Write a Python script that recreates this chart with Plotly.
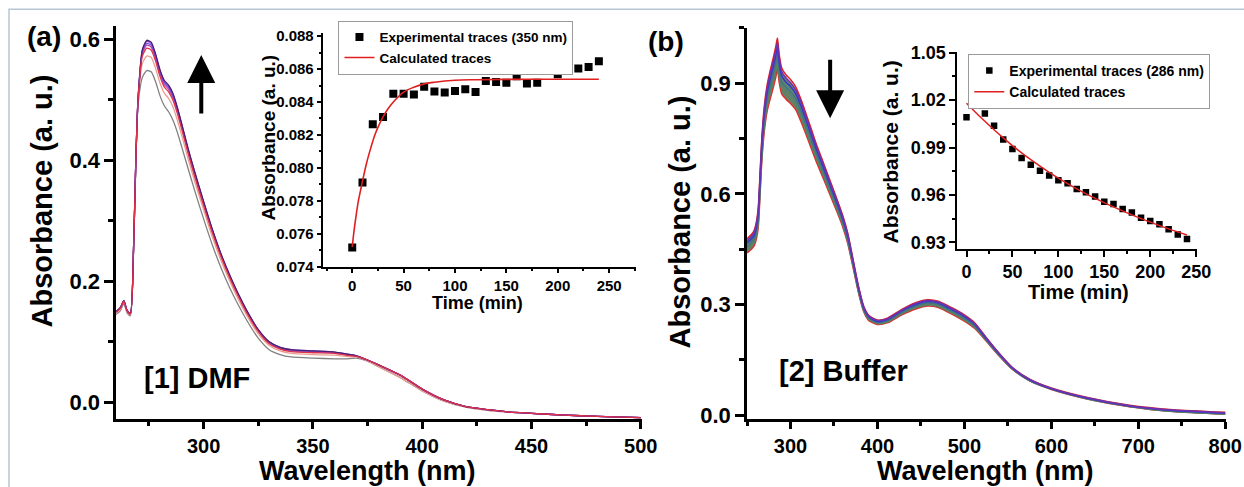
import plotly.graph_objects as go

# canvas size and the small scale/offset the page is shown at
FIG_W, FIG_H = 1265, 498
SX, SY, OX, OY = 0.986, 0.962, -1.0, 9.3
FONT = "Liberation Sans, Arial, sans-serif"


def px(x):
    return ((x - OX) / SX) / FIG_W


def py(y):
    return 1 - ((y - OY) / SY) / FIG_H


# ---------------- (a) UV-Vis spectra of [1] in DMF ----------------
wl_a_head = [260, 262, 263.5, 265, 266.5, 268, 269, 270, 272, 274, 276, 278, 280, 282, 284,
             286, 288, 290, 293, 296, 300, 304, 308, 312, 316, 320, 325, 330, 335, 340,
             350, 360, 365, 370]
abs_a_0min = [0.145, 0.152, 0.163, 0.148, 0.143, 0.255, 0.395, 0.490, 0.537, 0.548, 0.546, 0.530,
              0.507, 0.490, 0.480, 0.466, 0.446, 0.422, 0.385, 0.349, 0.303, 0.260, 0.222, 0.189,
              0.160, 0.134, 0.106, 0.087, 0.079, 0.075, 0.073, 0.072, 0.072, 0.073]
abs_a_10min = [0.147, 0.154, 0.165, 0.150, 0.145, 0.258, 0.398, 0.495, 0.560, 0.572, 0.570, 0.552,
               0.528, 0.511, 0.502, 0.488, 0.466, 0.441, 0.401, 0.364, 0.318, 0.273, 0.234, 0.200,
               0.169, 0.142, 0.113, 0.094, 0.085, 0.081, 0.079, 0.078, 0.076, 0.075]
abs_a_20min = [0.149, 0.156, 0.167, 0.151, 0.146, 0.260, 0.400, 0.498, 0.572, 0.585, 0.582, 0.564,
               0.539, 0.521, 0.513, 0.499, 0.477, 0.451, 0.410, 0.372, 0.325, 0.280, 0.240, 0.205,
               0.174, 0.146, 0.117, 0.097, 0.088, 0.084, 0.082, 0.081, 0.078, 0.076]
abs_a_30min = [0.149, 0.156, 0.167, 0.151, 0.146, 0.260, 0.400, 0.499, 0.577, 0.590, 0.587, 0.569,
               0.543, 0.525, 0.517, 0.503, 0.481, 0.455, 0.413, 0.375, 0.328, 0.282, 0.242, 0.207,
               0.176, 0.148, 0.118, 0.098, 0.089, 0.085, 0.083, 0.082, 0.079, 0.076]
abs_a_40min = [0.150, 0.157, 0.168, 0.152, 0.147, 0.260, 0.400, 0.500, 0.579, 0.593, 0.590, 0.572,
               0.546, 0.528, 0.520, 0.506, 0.484, 0.457, 0.415, 0.377, 0.330, 0.284, 0.243, 0.208,
               0.177, 0.149, 0.119, 0.099, 0.090, 0.086, 0.084, 0.082, 0.080, 0.077]
abs_a_60min = [0.150, 0.157, 0.168, 0.152, 0.147, 0.260, 0.400, 0.500, 0.581, 0.596, 0.593, 0.574,
               0.548, 0.530, 0.522, 0.508, 0.486, 0.459, 0.417, 0.379, 0.331, 0.285, 0.244, 0.209,
               0.178, 0.150, 0.120, 0.100, 0.091, 0.087, 0.085, 0.083, 0.080, 0.077]
abs_a_240min = [0.150, 0.157, 0.168, 0.152, 0.147, 0.260, 0.400, 0.500, 0.583, 0.598, 0.595, 0.576,
                0.550, 0.532, 0.524, 0.510, 0.487, 0.460, 0.418, 0.380, 0.332, 0.286, 0.245, 0.210,
                0.178, 0.150, 0.120, 0.100, 0.091, 0.087, 0.085, 0.083, 0.080, 0.077]
# long-wavelength part, where the traces merge
wl_a_tail = [375, 380, 390, 400, 410, 420, 430, 440, 450, 465, 480, 500]
abs_a_tail_early = [0.068, 0.059, 0.041, 0.019, 0.002, -0.008, -0.013, -0.016, -0.018, -0.021, -0.023, -0.025]
abs_a_tail = [0.070, 0.062, 0.045, 0.022, 0.004, -0.007, -0.012, -0.016, -0.018, -0.021, -0.023, -0.025]

# inset (a): kinetics at 350 nm
time_a = [0, 10, 20, 30, 40, 50, 60, 70, 80, 90, 100, 110, 120, 130, 140, 150, 160, 170, 180,
          190, 200, 210, 220, 230, 240]
exp_a = [0.07517, 0.07911, 0.08265, 0.08309, 0.08450, 0.08450, 0.08446, 0.08493, 0.08463, 0.08457,
         0.08467, 0.08477, 0.08461, 0.08527, 0.08521, 0.08517, 0.08556, 0.08513, 0.08517, 0.08608,
         0.08568, 0.08596, 0.08604, 0.08612, 0.08648]
fit_time_a = [0, 2, 4, 6, 8, 10, 14, 18, 22, 26, 30, 35, 40, 50, 60, 70, 80, 100, 120, 150, 200, 240]
fit_a = [0.07520, 0.07630, 0.07720, 0.07800, 0.07860, 0.07920, 0.08030, 0.08120, 0.08200, 0.08260,
         0.08310, 0.08360, 0.08400, 0.08460, 0.08490, 0.08510, 0.08520, 0.08532, 0.08535, 0.08537,
         0.08538, 0.08538]

# ---------------- (b) UV-Vis spectra of [2] in buffer ----------------
wl_b = [250, 255, 258, 261, 263, 265, 267, 270, 273, 276,
        280, 283, 285, 287, 290, 295, 300, 306, 312, 318,
        324, 330, 338, 346, 354, 360, 366, 372, 378, 384,
        390, 400, 412, 428, 444, 458, 470, 485, 500, 512,
        525, 540, 555, 575, 600, 640, 690, 740, 800]
abs_b_0min = [0.473, 0.485, 0.495, 0.521, 0.558, 0.648, 0.742, 0.832, 0.884, 0.919,
              0.956, 0.988, 1.010, 0.969, 0.931, 0.914, 0.902, 0.882, 0.849, 0.809,
              0.768, 0.727, 0.678, 0.628, 0.578, 0.538, 0.489, 0.419, 0.350, 0.295,
              0.269, 0.257, 0.262, 0.285, 0.303, 0.311, 0.307, 0.290, 0.270, 0.248,
              0.210, 0.167, 0.129, 0.097, 0.073, 0.048, 0.026, 0.014, 0.007]
abs_b_10min = [0.478, 0.490, 0.500, 0.527, 0.565, 0.655, 0.750, 0.840, 0.893, 0.928,
               0.966, 0.998, 1.022, 0.978, 0.940, 0.922, 0.910, 0.890, 0.856, 0.816,
               0.775, 0.733, 0.683, 0.633, 0.582, 0.542, 0.492, 0.422, 0.352, 0.297,
               0.271, 0.258, 0.264, 0.287, 0.305, 0.313, 0.309, 0.292, 0.272, 0.250,
               0.211, 0.168, 0.130, 0.098, 0.074, 0.049, 0.027, 0.015, 0.008]
abs_b_40min = [0.467, 0.478, 0.487, 0.513, 0.549, 0.638, 0.731, 0.820, 0.872, 0.905,
               0.942, 0.973, 0.995, 0.955, 0.919, 0.902, 0.891, 0.871, 0.838, 0.799,
               0.759, 0.719, 0.670, 0.621, 0.572, 0.533, 0.484, 0.415, 0.347, 0.293,
               0.267, 0.254, 0.260, 0.283, 0.300, 0.308, 0.304, 0.287, 0.267, 0.246,
               0.208, 0.166, 0.128, 0.096, 0.072, 0.047, 0.025, 0.013, 0.006]
abs_b_80min = [0.459, 0.470, 0.479, 0.503, 0.538, 0.626, 0.718, 0.805, 0.857, 0.889,
               0.925, 0.956, 0.977, 0.939, 0.904, 0.888, 0.877, 0.858, 0.825, 0.787,
               0.748, 0.709, 0.661, 0.613, 0.565, 0.526, 0.478, 0.411, 0.343, 0.289,
               0.264, 0.252, 0.257, 0.279, 0.296, 0.304, 0.300, 0.283, 0.263, 0.242,
               0.206, 0.164, 0.127, 0.095, 0.072, 0.047, 0.025, 0.012, 0.005]
abs_b_120min = [0.453, 0.464, 0.473, 0.496, 0.531, 0.618, 0.710, 0.796, 0.847, 0.879,
                0.914, 0.944, 0.965, 0.929, 0.895, 0.879, 0.868, 0.850, 0.817, 0.780,
                0.741, 0.702, 0.655, 0.608, 0.560, 0.522, 0.474, 0.408, 0.340, 0.287,
                0.262, 0.250, 0.256, 0.277, 0.294, 0.302, 0.298, 0.281, 0.261, 0.240,
                0.205, 0.163, 0.126, 0.094, 0.071, 0.046, 0.024, 0.011, 0.004]
abs_b_180min = [0.447, 0.457, 0.466, 0.488, 0.522, 0.608, 0.699, 0.784, 0.835, 0.866,
                0.900, 0.930, 0.950, 0.916, 0.883, 0.868, 0.857, 0.839, 0.807, 0.770,
                0.732, 0.694, 0.648, 0.601, 0.554, 0.517, 0.469, 0.404, 0.337, 0.285,
                0.260, 0.248, 0.253, 0.275, 0.291, 0.299, 0.295, 0.278, 0.258, 0.238,
                0.203, 0.162, 0.126, 0.094, 0.071, 0.045, 0.024, 0.010, 0.003]
abs_b_240min = [0.440, 0.450, 0.458, 0.480, 0.512, 0.598, 0.688, 0.772, 0.822, 0.852,
                0.886, 0.915, 0.938, 0.902, 0.870, 0.856, 0.845, 0.828, 0.796, 0.760,
                0.722, 0.685, 0.640, 0.594, 0.548, 0.511, 0.464, 0.400, 0.334, 0.282,
                0.257, 0.246, 0.251, 0.272, 0.288, 0.296, 0.292, 0.275, 0.255, 0.235,
                0.201, 0.161, 0.125, 0.093, 0.070, 0.045, 0.023, 0.010, 0.003]

# inset (b): kinetics at 286 nm
time_b = [0, 10, 20, 30, 40, 50, 60, 70, 80, 90, 100, 110, 120, 130, 140, 150, 160, 170, 180,
          190, 200, 210, 220, 230, 240]
exp_b = [1.0091, 1.0202, 1.0115, 1.0038, 0.9950, 0.9890, 0.9833, 0.9791, 0.9753, 0.9723,
         0.9693, 0.9674, 0.9638, 0.9617, 0.9590, 0.9556, 0.9543, 0.9511, 0.9488, 0.9456,
         0.9435, 0.9414, 0.9382, 0.9350, 0.9321]
fit_time_b = [0, 10, 20, 30, 40, 50, 60, 70, 80, 90, 100, 120, 140, 160, 180, 200, 220, 240]
fit_b = [1.0180, 1.0122, 1.0066, 1.0012, 0.9961, 0.9912, 0.9866, 0.9823, 0.9782, 0.9743,
         0.9706, 0.9638, 0.9578, 0.9524, 0.9474, 0.9428, 0.9385, 0.9346]

fig = go.Figure()

# spectra (a)
series_a = [
    (abs_a_0min, abs_a_tail_early, "#808080"),
    (abs_a_10min, abs_a_tail_early, "#e8a090"),
    (abs_a_30min, abs_a_tail, "#c040a8"),
    (abs_a_40min, abs_a_tail, "#6a5ae0"),
    (abs_a_60min, abs_a_tail, "#8a3ad0"),
    (abs_a_240min, abs_a_tail, "#4a1f70"),
    (abs_a_20min, abs_a_tail, "#e0304a"),
]
for head, tail, col in series_a:
    fig.add_trace(go.Scatter(x=wl_a_head + wl_a_tail, y=head + tail, mode="lines",
                             line=dict(color=col, width=1.3, shape="spline", smoothing=0.6),
                             showlegend=False, hoverinfo="skip", xaxis="x", yaxis="y"))

# inset (a)
fig.add_trace(go.Scatter(x=time_a, y=exp_a, mode="markers", name="Experimental traces (350 nm)",
                         marker=dict(symbol="square", size=8, color="black"),
                         xaxis="x2", yaxis="y2", legend="legend"))
fig.add_trace(go.Scatter(x=fit_time_a, y=fit_a, mode="lines", name="Calculated traces",
                         line=dict(color="#e02020", width=1.6, shape="spline"),
                         xaxis="x2", yaxis="y2", legend="legend"))

# spectra (b): family of traces, the space between them shaded like the dense bundle
fig.add_trace(go.Scatter(x=wl_b, y=abs_b_10min, mode="lines",
                         line=dict(color="#e02020", width=1.5, shape="spline", smoothing=0.6),
                         showlegend=False, hoverinfo="skip", xaxis="x3", yaxis="y3"))
band_b = [
    (abs_b_240min, "#e03030", None),
    (abs_b_180min, "#5f7f62", "tonexty"),
    (abs_b_120min, "#55806a", "tonexty"),
    (abs_b_80min, "#3f7585", "tonexty"),
    (abs_b_40min, "#3838c8", "tonexty"),
    (abs_b_0min, "#7030b0", "tonexty"),
]
for vals, col, fill in band_b:
    fig.add_trace(go.Scatter(x=wl_b, y=vals, mode="lines", fill=fill,
                             fillcolor="rgba(88,122,98,0.92)",
                             line=dict(color=col, width=1.5, shape="spline", smoothing=0.6),
                             showlegend=False, hoverinfo="skip", xaxis="x3", yaxis="y3"))

# inset (b)
fig.add_trace(go.Scatter(x=time_b, y=exp_b, mode="markers", name="Experimental traces (286 nm)",
                         marker=dict(symbol="square", size=6.5, color="black"),
                         xaxis="x4", yaxis="y4", legend="legend2"))
fig.add_trace(go.Scatter(x=fit_time_b, y=fit_b, mode="lines", name="Calculated traces",
                         line=dict(color="#e02020", width=1.5, shape="spline"),
                         xaxis="x4", yaxis="y4", legend="legend2"))


def axis(domain, rng, anchor, dtick, minor_dtick, fsize, lw, tlen, mlen, fmt=None, standoff=None):
    d = dict(domain=domain, range=rng, anchor=anchor, showline=True, linecolor="black",
             linewidth=lw, ticks="outside", ticklen=tlen, tickwidth=lw, tickcolor="black",
             tick0=0, dtick=dtick, showgrid=False, zeroline=False,
             tickfont=dict(family=FONT, size=fsize, color="black", weight="bold"),
             minor=dict(ticks="outside", ticklen=mlen, tickwidth=lw, tickcolor="black",
                        dtick=minor_dtick, tick0=0, showgrid=False))
    if fmt:
        d["tickformat"] = fmt
    if standoff is not None:
        d["ticklabelstandoff"] = standoff
    return d


fig.update_layout(
    width=FIG_W, height=FIG_H, margin=dict(l=0, r=0, t=0, b=0),
    paper_bgcolor="white", plot_bgcolor="rgba(0,0,0,0)",
    xaxis=axis([px(115), px(640)], [260, 500.5], "y", 50, 25, 20, 2.5, 7, 4, standoff=0),
    yaxis=axis([py(418), py(26)], [-0.028, 0.622], "x", 0.2, 0.1, 22, 2.5, 9, 5, ".1f"),
    xaxis2=axis([px(322), px(634)], [-28, 276], "y2", 50, 25, 15, 1.5, 5, 3),
    yaxis2=axis([py(266), py(33)], [0.074, 0.0882], "x2", 0.002, 0.001, 15, 1.5, 5, 3, ".3f"),
    xaxis3=axis([px(745), px(1223)], [250, 800.5], "y3", 100, 50, 20, 2.5, 7, 4, standoff=0),
    yaxis3=axis([py(418), py(28)], [-0.011, 1.05], "x3", 0.3, 0.15, 22, 2.5, 9, 5, ".1f"),
    xaxis4=axis([px(955), px(1194)], [-10, 250.5], "y4", 50, 25, 18, 1.8, 6, 3),
    yaxis4=axis([py(248), py(52)], [0.926, 1.0505], "x4", 0.03, 0.015, 18, 1.8, 6, 3, ".2f"),
    legend=dict(x=px(337), y=py(21), xanchor="left", yanchor="top", bgcolor="white",
                bordercolor="#9a9a9a", borderwidth=1, tracegroupgap=0, traceorder="normal",
                font=dict(family=FONT, size=13.5, color="black", weight="bold")),
    legend2=dict(x=px(966), y=py(54), xanchor="left", yanchor="top", bgcolor="white",
                 bordercolor="#9a9a9a", borderwidth=1, tracegroupgap=0, traceorder="normal",
                 font=dict(family=FONT, size=14, color="black", weight="bold")),
)


def label(text, x, y, size, angle=0):
    fig.add_annotation(text=text, x=px(x), y=py(y), xref="paper", yref="paper",
                       showarrow=False, textangle=angle, xanchor="center", yanchor="middle",
                       font=dict(family=FONT, size=size, color="black", weight="bold"))


label("(a)", 43, 37, 28)
label("(b)", 664, 42, 28)
label("[1] DMF", 196, 377, 29)
label("[2] Buffer", 841, 370, 29)
label("Absorbance (a. u.)", 41, 201, 29, -90)
label("Wavelength (nm)", 366, 469, 27)
label("Absorbance (a. u.)", 678, 221, 29, -90)
label("Wavelength (nm)", 983, 469, 27)
label("Absorbance (a. u.)", 267, 137, 19, -90)
label("Time (min)", 476, 302, 18)
label("Absorbance (a. u.)", 888, 152, 21, -90)
label("Time (min)", 1076, 291, 20)

# trend arrows
fig.add_annotation(x=px(200), y=py(55), xref="paper", yref="paper", ax=0, ay=60, text="",
                   showarrow=True, arrowhead=2, arrowsize=1.4, arrowwidth=4, arrowcolor="black")
fig.add_annotation(x=px(828), y=py(118), xref="paper", yref="paper", ax=0, ay=-60, text="",
                   showarrow=True, arrowhead=2, arrowsize=1.4, arrowwidth=4, arrowcolor="black")

# light frame around the figure
fig.add_shape(type="rect", xref="paper", yref="paper", x0=px(8), y0=-0.05, x1=1.05, y1=py(9.5),
              line=dict(color="#b7c6d6", width=1.5), layer="below")

fig.write_html("out.html")
